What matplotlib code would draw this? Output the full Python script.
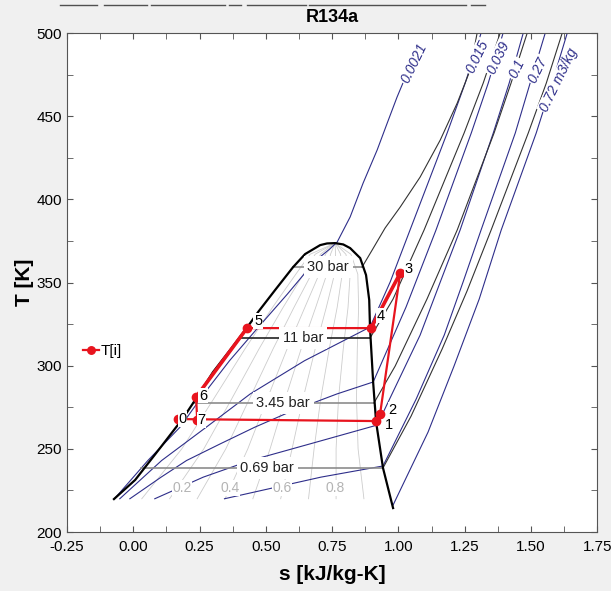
import matplotlib.pyplot as plt
from matplotlib.lines import Line2D
from matplotlib.ticker import MultipleLocator, FormatStrFormatter

plt.rcParams['font.family'] = ['Liberation Sans', 'DejaVu Sans']

# saturation dome (liquid side up to the critical point, then vapour side)
dome_s = [-0.073, 0.007, 0.101, 0.188, 0.241, 0.301, 0.365, 0.425, 0.471, 0.535, 0.603,
          0.648, 0.705, 0.731, 0.761, 0.792, 0.818, 0.856, 0.878, 0.890, 0.893, 0.905,
          0.916, 0.942, 0.980]
dome_T = [219.8, 231.3, 250.5, 268.5, 281.2, 296.2, 309.4, 322.0, 332.3, 345.5, 359.3,
          367.1, 372.5, 373.5, 373.7, 372.9, 370.7, 364.7, 354.5, 339.5, 322.6, 289.6,
          266.1, 238.5, 214.4]

# quality lines
q_T = [220, 250, 280, 310, 335, 355, 367, 373.7]
q_s = {
    0.1: [0.032, 0.183, 0.303, 0.421, 0.525, 0.613, 0.667, 0.761],
    0.2: [0.137, 0.266, 0.371, 0.474, 0.565, 0.642, 0.686, 0.761],
    0.3: [0.241, 0.349, 0.438, 0.527, 0.606, 0.672, 0.706, 0.761],
    0.4: [0.346, 0.432, 0.505, 0.580, 0.647, 0.701, 0.725, 0.761],
    0.5: [0.451, 0.516, 0.573, 0.633, 0.688, 0.730, 0.744, 0.761],
    0.6: [0.556, 0.599, 0.640, 0.686, 0.728, 0.759, 0.763, 0.761],
    0.7: [0.661, 0.682, 0.707, 0.739, 0.769, 0.788, 0.782, 0.761],
    0.8: [0.765, 0.765, 0.774, 0.792, 0.810, 0.818, 0.802, 0.761],
    0.9: [0.870, 0.848, 0.842, 0.845, 0.850, 0.847, 0.821, 0.761],
}
q_labels = ['0.2', '0.4', '0.6', '0.8']
q_label_s = [0.184, 0.365, 0.561, 0.761]
q_label_T = 226.5

# isochores [m3/kg]
v0021_s = [-0.071, 0.055, 0.176, 0.266, 0.363, 0.471, 0.581, 0.686, 0.740, 0.769,
           0.818, 0.867, 0.920, 0.958, 0.995, 1.025]
v0021_T = [220, 243, 263, 283, 303, 323, 343, 363, 370, 374.3,
           389.4, 409.8, 429.7, 445.9, 461.5, 472.9]
v015_s = [-0.051, 0.107, 0.275, 0.441, 0.646, 0.893, 0.969, 1.044, 1.184, 1.252, 1.312]
v015_T = [220, 243, 263, 283, 303, 323.2, 350.3, 381.6, 439.9, 469.9, 500]
v039_s = [-0.013, 0.105, 0.201, 0.328, 0.458, 0.602, 0.768, 0.905, 1.029, 1.142, 1.275,
          1.339, 1.395]
v039_T = [220, 233, 243, 253, 263, 273, 283, 290.2, 335.3, 381.6, 439.9, 469.9, 500]
v1_s = [0.081, 0.264, 0.442, 0.667, 0.920, 1.082, 1.158, 1.233, 1.358, 1.418, 1.471]
v1_T = [220, 233, 243, 253, 264.3, 318.4, 350.3, 381.6, 439.9, 469.9, 500]
v27_s = [0.344, 0.708, 0.942, 1.067, 1.173, 1.244, 1.312, 1.441, 1.497, 1.554]
v27_T = [220, 233, 239.7, 279.9, 318.4, 350.3, 381.6, 439.9, 469.9, 500]
v72_s = [0.980, 1.112, 1.210, 1.305, 1.388, 1.520, 1.580, 1.637]
v72_T = [216.2, 260.1, 299.8, 340.1, 381.6, 439.9, 469.9, 500]

iso_v_lines = [(v0021_s, v0021_T), (v015_s, v015_T), (v039_s, v039_T),
               (v1_s, v1_T), (v27_s, v27_T), (v72_s, v72_T)]
v_labels = ['0.0021', '0.015', '0.039', '0.1', '0.27', '0.72 m3/kg']
v_label_s = [1.058, 1.299, 1.378, 1.446, 1.526, 1.607]
v_label_T = [482.0, 485.6, 485.0, 478.4, 477.8, 471.7]

# isobars: plateau inside the dome, then superheated branch
p30_plateau = ([0.603, 0.863], [359.3, 359.3])
p30_s = [0.863, 0.901, 0.950, 1.007, 1.082, 1.158, 1.222, 1.271, 1.297]
p30_T = [359.3, 369.5, 382.8, 395.4, 413.4, 435.7, 457.9, 477.8, 500]
p11_plateau = ([0.399, 0.893], [316.6, 316.6])
p11_s = [0.893, 0.980, 1.097, 1.248, 1.320, 1.384]
p11_T = [316.6, 340.1, 381.6, 439.9, 469.9, 500]
p345_plateau = ([0.227, 0.908], [277.6, 277.6])
p345_s = [0.908, 0.988, 1.108, 1.222, 1.361, 1.425, 1.486]
p345_T = [277.6, 299.8, 340.1, 381.6, 439.9, 469.9, 500]
p069_plateau = ([0.030, 0.942], [238.5, 238.5])
p069_s = [0.942, 1.048, 1.165, 1.259, 1.350, 1.490, 1.558, 1.618]
p069_T = [238.5, 269.7, 310.0, 344.9, 381.6, 439.9, 469.9, 500]

p_labels = ['30 bar', '11 bar', '3.45 bar', '0.69 bar']
p_label_s = [0.735, 0.641, 0.565, 0.505]
p_label_T = [359.3, 316.6, 277.6, 238.5]

# cycle states T[i], s[i]
state_id = ['0', '1', '2', '3', '4', '5', '6', '7']
state_s = [0.170, 0.916, 0.931, 1.007, 0.897, 0.429, 0.237, 0.241]
state_T = [267.9, 266.7, 271.0, 355.7, 322.6, 322.6, 281.2, 267.3]
state_off = [(3, 0), (9, -3), (9, 3), (6, 3), (7, 9), (8, 5), (5, 1), (3, 0)]

navy = '#2e2e8a'
fig = plt.figure(figsize=(6.11, 5.91), dpi=100, facecolor='#f0f0f0')
ax = fig.add_axes([0.1097, 0.0998, 0.8677, 0.8443])
ax.set_facecolor('white')

for q, s in q_s.items():
    ax.plot(s, q_T, color='#cccccc', lw=0.6, zorder=1)
for lbl, s in zip(q_labels, q_label_s):
    ax.text(s, q_label_T, lbl, color='#b4b4b4', fontsize=10, ha='center', va='center', zorder=5,
            bbox=dict(boxstyle='square,pad=0.05', fc='white', ec='none'))

for s, T in iso_v_lines:
    ax.plot(s, T, color=navy, lw=0.8, zorder=2)
for lbl, s, T in zip(v_labels, v_label_s, v_label_T):
    ax.text(s, T, lbl, color=navy, fontsize=10, ha='center', va='center', rotation=64,
            rotation_mode='anchor', zorder=5, style='italic',
            bbox=dict(boxstyle='square,pad=0.1', fc='white', ec='none'))

for (ps, pT), s, T, c in [(p30_plateau, p30_s, p30_T, '#8c8c8c'),
                          (p11_plateau, p11_s, p11_T, '#222222'),
                          (p345_plateau, p345_s, p345_T, '#8c8c8c'),
                          (p069_plateau, p069_s, p069_T, '#8c8c8c')]:
    ax.plot(ps, pT, color=c, lw=1.2, zorder=2)
    ax.plot(s, T, color='#333333', lw=0.8, zorder=2)
for lbl, s, T in zip(p_labels, p_label_s, p_label_T):
    ax.text(s, T, lbl, color='#222222', fontsize=10.5, ha='center', va='center', zorder=5,
            bbox=dict(boxstyle='square,pad=0.25', fc='white', ec='none'))

ax.plot(dome_s, dome_T, color='black', lw=1.6, zorder=3)

ax.plot(state_s, state_T, color='#e8141e', lw=1.6, marker='o', ms=6, zorder=4, label='T[i]')
ax.plot(state_s[3:5], state_T[3:5], color='#e8141e', lw=2.6, zorder=4)
ax.plot(state_s[5:7], state_T[5:7], color='#e8141e', lw=2.6, zorder=4)
for lbl, s, T, off in zip(state_id, state_s, state_T, state_off):
    ax.annotate(lbl, (s, T), xytext=off, textcoords='offset points', fontsize=10.5,
                ha='center', va='center', zorder=6,
                bbox=dict(boxstyle='square,pad=0.05', fc='white', ec='none'))

ax.legend(loc='center left', bbox_to_anchor=(0.005, 0.362), frameon=False,
          handlelength=1.0, handletextpad=0.15, fontsize=11, markerscale=0.9)

ax.set_xlim(-0.25, 1.75)
ax.set_ylim(200, 500)
ax.xaxis.set_major_locator(MultipleLocator(0.25))
ax.xaxis.set_minor_locator(MultipleLocator(0.125))
ax.xaxis.set_major_formatter(FormatStrFormatter('%.2f'))
ax.yaxis.set_major_locator(MultipleLocator(50))
ax.yaxis.set_minor_locator(MultipleLocator(25))
ax.tick_params(which='both', direction='in', top=True, right=True, length=4,
               labelsize=11, color='#555555')
ax.tick_params(axis='x', pad=6)
for sp in ax.spines.values():
    sp.set_color('#555555')

ax.set_title('R134a', fontsize=13, fontweight='bold', pad=8)
ax.set_xlabel('s [kJ/kg-K]', fontsize=15, fontweight='bold', labelpad=8)
ax.set_ylabel('T [K]', fontsize=15, fontweight='bold', labelpad=2)

# remnant of the window frame above the chart
for x0, x1 in [(60, 97), (104, 147), (151, 225), (229, 241), (247, 306), (309, 466), (471, 485)]:
    fig.add_artist(Line2D([x0 / 611, x1 / 611], [0.992, 0.992], color='#505050', lw=1))

fig.savefig('out.png', dpi=100, facecolor=fig.get_facecolor())
